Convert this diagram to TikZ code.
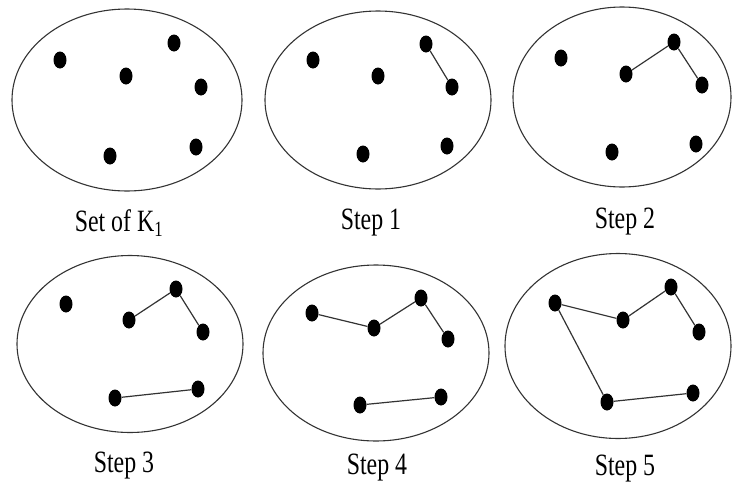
\documentclass[tikz,border=0pt]{standalone}
\usepackage{fontspec}
\setmainfont{Liberation Serif}[FakeStretch=0.77]
\usepackage{tikz}
\usetikzlibrary{shapes.geometric}

\begin{document}
\begin{tikzpicture}[
	x=1pt, y=-1pt,
	set/.style={ellipse, draw=black!80, line width=1.1pt, inner sep=0pt},
	pt/.style={ellipse, fill=black, inner sep=0pt, minimum width=13pt, minimum height=17pt},
	link/.style={draw=black!80, line width=1.2pt},
	caption/.style={font=\fontsize{31}{34}\selectfont}
	]
	\useasboundingbox (0,0) rectangle (732,488);
	
	% Set of K1
	\node[set, minimum width=230pt, minimum height=182pt] (S0) at (127,100) {};
	\node[pt] (a1) at (60,60) {};
	\node[pt] (a2) at (126,76) {};
	\node[pt] (a3) at (174,43) {};
	\node[pt] (a4) at (201,87) {};
	\node[pt] (a5) at (110,156) {};
	\node[pt] (a6) at (196,147) {};
	\node[caption] (t0) at (119,223) {Set of K\textsubscript{1}};
	
	% Step 1
	\node[set, minimum width=226pt, minimum height=178pt] (S1) at (378,100) {};
	\node[pt] (b1) at (313,60) {};
	\node[pt] (b2) at (378,76) {};
	\node[pt] (b3) at (426,44) {};
	\node[pt] (b4) at (452,87) {};
	\node[pt] (b5) at (363,154) {};
	\node[pt] (b6) at (447,146) {};
	\draw[link] (b3) -- (b4);
	\node[caption] (t1) at (371,223) {Step 1};
	
	% Step 2
	\node[set, minimum width=218pt, minimum height=180pt] (S2) at (622,97) {};
	\node[pt] (c1) at (561,58) {};
	\node[pt] (c2) at (626,74) {};
	\node[pt] (c3) at (674,42) {};
	\node[pt] (c4) at (702,85) {};
	\node[pt] (c5) at (612,152) {};
	\node[pt] (c6) at (696,144) {};
	\draw[link] (c2) -- (c3) -- (c4);
	\node[caption] (t2) at (625,222) {Step 2};
	
	% Step 3
	\node[set, minimum width=226pt, minimum height=177pt] (S3) at (130,344) {};
	\node[pt] (d1) at (66,304) {};
	\node[pt] (d2) at (129,320) {};
	\node[pt] (d3) at (176,289) {};
	\node[pt] (d4) at (203,332) {};
	\node[pt] (d5) at (115,398) {};
	\node[pt] (d6) at (198,389) {};
	\draw[link] (d2) -- (d3) -- (d4);
	\draw[link] (d5) -- (d6);
	\node[caption] (t3) at (124,466) {Step 3};
	
	% Step 4
	\node[set, minimum width=226pt, minimum height=176pt] (S4) at (376,353) {};
	\node[pt] (e1) at (312,313) {};
	\node[pt] (e2) at (374,328) {};
	\node[pt] (e3) at (421,298) {};
	\node[pt] (e4) at (448,339) {};
	\node[pt] (e5) at (360,405) {};
	\node[pt] (e6) at (441,397) {};
	\draw[link] (e1) -- (e2) -- (e3) -- (e4);
	\draw[link] (e5) -- (e6);
	\node[caption] (t4) at (377,468) {Step 4};
	
	% Step 5
	\node[set, minimum width=226pt, minimum height=185pt] (S5) at (618,346) {};
	\node[pt] (f1) at (555,303) {};
	\node[pt] (f2) at (623,320) {};
	\node[pt] (f3) at (671,287) {};
	\node[pt] (f4) at (699,332) {};
	\node[pt] (f5) at (607,402) {};
	\node[pt] (f6) at (693,393) {};
	\draw[link] (f1) -- (f2) -- (f3) -- (f4);
	\draw[link] (f1) -- (f5) -- (f6);
	\node[caption] (t5) at (625,469) {Step 5};
	
\end{tikzpicture}
\end{document}
